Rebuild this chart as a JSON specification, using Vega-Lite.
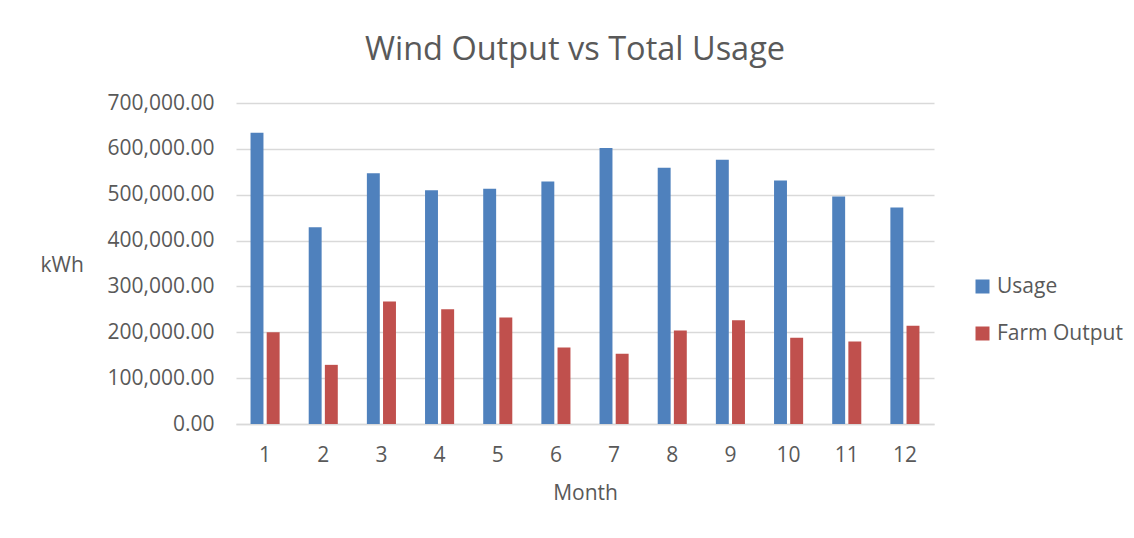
{
  "$schema": "https://vega.github.io/schema/vega-lite/v6.json",
  "autosize": {"type": "none"},
  "width": 698,
  "height": 321,
  "padding": {"left": 236, "top": 103, "right": 200, "bottom": 114},
  "background": "white",
  "config": {
    "font": "Open Sans",
    "view": {"stroke": null},
    "axis": {"labelColor": "#595959", "titleColor": "#595959", "labelFontWeight": "normal", "titleFontWeight": "normal"}
  },
  "title": {
    "text": "Wind Output vs Total Usage",
    "fontSize": 32.5,
    "fontWeight": "normal",
    "color": "#595959",
    "anchor": "middle",
    "dx": -10,
    "offset": 0,
    "baseline": "alphabetic"
  },
  "data": {
    "values": [
      {"Month": 1, "Series": "Usage", "kWh": 635000},
      {"Month": 1, "Series": "Farm Output", "kWh": 200000},
      {"Month": 2, "Series": "Usage", "kWh": 429000},
      {"Month": 2, "Series": "Farm Output", "kWh": 129000},
      {"Month": 3, "Series": "Usage", "kWh": 547000},
      {"Month": 3, "Series": "Farm Output", "kWh": 267000},
      {"Month": 4, "Series": "Usage", "kWh": 510000},
      {"Month": 4, "Series": "Farm Output", "kWh": 250000},
      {"Month": 5, "Series": "Usage", "kWh": 513000},
      {"Month": 5, "Series": "Farm Output", "kWh": 232000},
      {"Month": 6, "Series": "Usage", "kWh": 529000},
      {"Month": 6, "Series": "Farm Output", "kWh": 167000},
      {"Month": 7, "Series": "Usage", "kWh": 602000},
      {"Month": 7, "Series": "Farm Output", "kWh": 153000},
      {"Month": 8, "Series": "Usage", "kWh": 559000},
      {"Month": 8, "Series": "Farm Output", "kWh": 204000},
      {"Month": 9, "Series": "Usage", "kWh": 576000},
      {"Month": 9, "Series": "Farm Output", "kWh": 226000},
      {"Month": 10, "Series": "Usage", "kWh": 531000},
      {"Month": 10, "Series": "Farm Output", "kWh": 188000},
      {"Month": 11, "Series": "Usage", "kWh": 496000},
      {"Month": 11, "Series": "Farm Output", "kWh": 180000},
      {"Month": 12, "Series": "Usage", "kWh": 472000},
      {"Month": 12, "Series": "Farm Output", "kWh": 214000}
    ]
  },
  "mark": {"type": "bar"},
  "encoding": {
    "x": {
      "field": "Month",
      "type": "ordinal",
      "scale": {"paddingInner": 0.5, "paddingOuter": 0.25},
      "axis": {
        "title": "Month",
        "titleFontSize": 21,
        "titlePadding": 17,
        "labelFontSize": 21,
        "labelAngle": 0,
        "labelPadding": 20,
        "ticks": false,
        "domain": true,
        "domainColor": "#D9D9D9",
        "domainWidth": 1.3
      }
    },
    "xOffset": {
      "field": "Series",
      "type": "nominal",
      "sort": ["Usage", "Farm Output"],
      "scale": {"paddingInner": 0.2}
    },
    "y": {
      "field": "kWh",
      "type": "quantitative",
      "scale": {"domain": [0, 700000], "nice": false},
      "axis": {
        "title": "kWh",
        "titleAngle": 0,
        "titleAlign": "left",
        "titleBaseline": "middle",
        "titleX": -196,
        "titleY": 162,
        "titleFontSize": 21,
        "labelFontSize": 21,
        "labelPadding": 22,
        "format": ",.2f",
        "values": [0, 100000, 200000, 300000, 400000, 500000, 600000, 700000],
        "ticks": false,
        "domain": false,
        "gridColor": "#D9D9D9",
        "gridWidth": 1.3
      }
    },
    "color": {
      "field": "Series",
      "type": "nominal",
      "sort": ["Usage", "Farm Output"],
      "scale": {"domain": ["Usage", "Farm Output"], "range": ["#4F81BD", "#C0504D"]},
      "legend": {
        "title": null,
        "orient": "none",
        "legendX": 736,
        "legendY": 173,
        "symbolType": "square",
        "symbolSize": 196,
        "symbolStrokeWidth": 0,
        "labelFontSize": 21,
        "labelColor": "#595959",
        "labelOffset": 4,
        "rowPadding": 25
      }
    }
  }
}
